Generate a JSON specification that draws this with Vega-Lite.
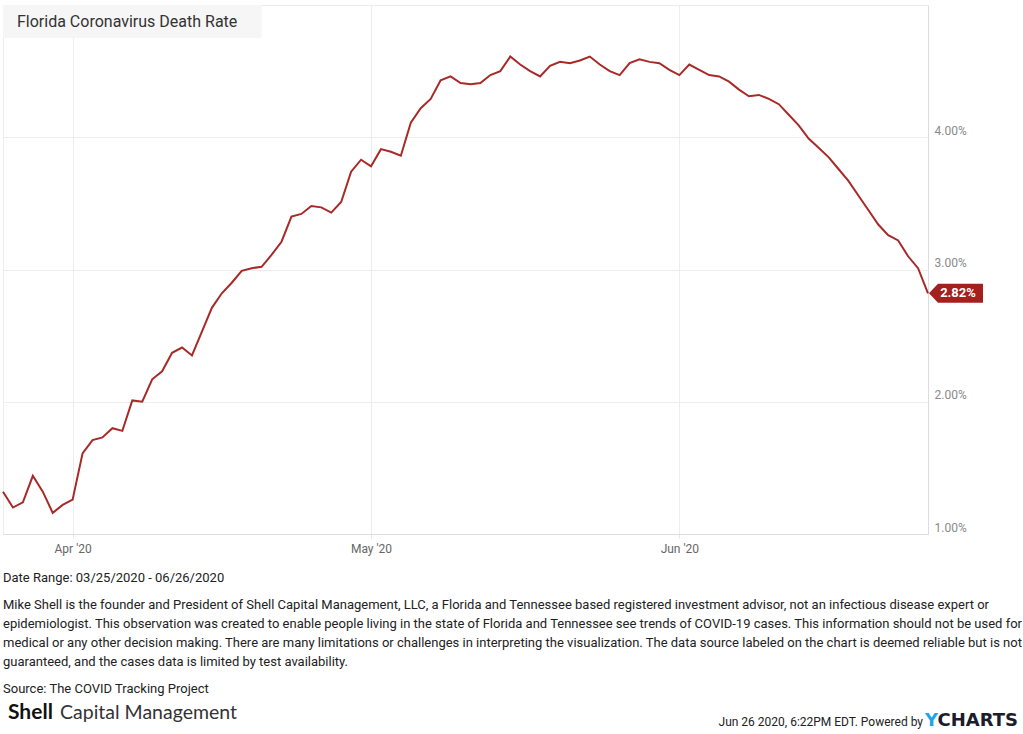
{
  "$schema": "https://vega.github.io/schema/vega-lite/v6.json",
  "background": "white",
  "padding": {"left": -2, "top": 4, "right": 0, "bottom": 0},
  "spacing": 13,
  "config": {
    "font": "Roboto",
    "view": {"stroke": "#ececec"},
    "axis": {"labelFont": "Roboto", "titleFont": "Roboto"}
  },
  "vconcat": [
    {
      "width": 925,
      "height": 529,
      "title": {
        "text": "Date Range: 03/25/2020 - 06/26/2020",
        "subtitle": [
          "Mike Shell is the founder and President of Shell Capital Management, LLC, a Florida and Tennessee based registered investment advisor, not an infectious disease expert or",
          "epidemiologist. This observation was created to enable people living in the state of Florida and Tennessee see trends of COVID-19 cases. This information should not be used for",
          "medical or any other decision making. There are many limitations or challenges in interpreting the visualization. The data source labeled on the chart is deemed reliable but is not",
          "guaranteed, and the cases data is limited by test availability."
        ],
        "orient": "bottom",
        "anchor": "start",
        "frame": "bounds",
        "offset": 18,
        "dx": 4,
        "font": "Roboto",
        "fontSize": 13,
        "fontWeight": "normal",
        "color": "#222222",
        "subtitleFont": "Roboto",
        "subtitleFontSize": 13,
        "subtitleColor": "#222222",
        "subtitleLineHeight": 19,
        "subtitlePadding": 14
      },
      "data": {"values": [
        {"date": "2020-03-25", "rate": 0.0132},
        {"date": "2020-03-26", "rate": 0.0120},
        {"date": "2020-03-27", "rate": 0.0124},
        {"date": "2020-03-28", "rate": 0.0144},
        {"date": "2020-03-29", "rate": 0.0132},
        {"date": "2020-03-30", "rate": 0.0116},
        {"date": "2020-03-31", "rate": 0.0122},
        {"date": "2020-04-01", "rate": 0.0126},
        {"date": "2020-04-02", "rate": 0.0161},
        {"date": "2020-04-03", "rate": 0.0171},
        {"date": "2020-04-04", "rate": 0.0173},
        {"date": "2020-04-05", "rate": 0.0180},
        {"date": "2020-04-06", "rate": 0.0178},
        {"date": "2020-04-07", "rate": 0.0201},
        {"date": "2020-04-08", "rate": 0.0200},
        {"date": "2020-04-09", "rate": 0.0217},
        {"date": "2020-04-10", "rate": 0.0223},
        {"date": "2020-04-11", "rate": 0.0237},
        {"date": "2020-04-12", "rate": 0.0241},
        {"date": "2020-04-13", "rate": 0.0235},
        {"date": "2020-04-14", "rate": 0.0253},
        {"date": "2020-04-15", "rate": 0.0271},
        {"date": "2020-04-16", "rate": 0.0282},
        {"date": "2020-04-17", "rate": 0.0290},
        {"date": "2020-04-18", "rate": 0.0299},
        {"date": "2020-04-19", "rate": 0.0301},
        {"date": "2020-04-20", "rate": 0.0302},
        {"date": "2020-04-21", "rate": 0.0311},
        {"date": "2020-04-22", "rate": 0.0321},
        {"date": "2020-04-23", "rate": 0.0340},
        {"date": "2020-04-24", "rate": 0.0342},
        {"date": "2020-04-25", "rate": 0.0348},
        {"date": "2020-04-26", "rate": 0.0347},
        {"date": "2020-04-27", "rate": 0.0343},
        {"date": "2020-04-28", "rate": 0.0351},
        {"date": "2020-04-29", "rate": 0.0374},
        {"date": "2020-04-30", "rate": 0.0383},
        {"date": "2020-05-01", "rate": 0.0378},
        {"date": "2020-05-02", "rate": 0.0391},
        {"date": "2020-05-03", "rate": 0.0389},
        {"date": "2020-05-04", "rate": 0.0386},
        {"date": "2020-05-05", "rate": 0.0411},
        {"date": "2020-05-06", "rate": 0.0422},
        {"date": "2020-05-07", "rate": 0.0429},
        {"date": "2020-05-08", "rate": 0.0443},
        {"date": "2020-05-09", "rate": 0.0446},
        {"date": "2020-05-10", "rate": 0.0441},
        {"date": "2020-05-11", "rate": 0.0440},
        {"date": "2020-05-12", "rate": 0.0441},
        {"date": "2020-05-13", "rate": 0.0447},
        {"date": "2020-05-14", "rate": 0.0450},
        {"date": "2020-05-15", "rate": 0.0461},
        {"date": "2020-05-16", "rate": 0.0455},
        {"date": "2020-05-17", "rate": 0.0450},
        {"date": "2020-05-18", "rate": 0.0446},
        {"date": "2020-05-19", "rate": 0.0454},
        {"date": "2020-05-20", "rate": 0.0457},
        {"date": "2020-05-21", "rate": 0.0456},
        {"date": "2020-05-22", "rate": 0.0458},
        {"date": "2020-05-23", "rate": 0.0461},
        {"date": "2020-05-24", "rate": 0.0455},
        {"date": "2020-05-25", "rate": 0.0450},
        {"date": "2020-05-26", "rate": 0.0447},
        {"date": "2020-05-27", "rate": 0.0456},
        {"date": "2020-05-28", "rate": 0.0459},
        {"date": "2020-05-29", "rate": 0.0457},
        {"date": "2020-05-30", "rate": 0.0456},
        {"date": "2020-05-31", "rate": 0.0451},
        {"date": "2020-06-01", "rate": 0.0447},
        {"date": "2020-06-02", "rate": 0.0455},
        {"date": "2020-06-03", "rate": 0.0451},
        {"date": "2020-06-04", "rate": 0.0447},
        {"date": "2020-06-05", "rate": 0.0446},
        {"date": "2020-06-06", "rate": 0.0442},
        {"date": "2020-06-07", "rate": 0.0436},
        {"date": "2020-06-08", "rate": 0.0431},
        {"date": "2020-06-09", "rate": 0.0432},
        {"date": "2020-06-10", "rate": 0.0429},
        {"date": "2020-06-11", "rate": 0.0425},
        {"date": "2020-06-12", "rate": 0.0417},
        {"date": "2020-06-13", "rate": 0.0409},
        {"date": "2020-06-14", "rate": 0.0399},
        {"date": "2020-06-15", "rate": 0.0392},
        {"date": "2020-06-16", "rate": 0.0385},
        {"date": "2020-06-17", "rate": 0.0376},
        {"date": "2020-06-18", "rate": 0.0367},
        {"date": "2020-06-19", "rate": 0.0356},
        {"date": "2020-06-20", "rate": 0.0345},
        {"date": "2020-06-21", "rate": 0.0334},
        {"date": "2020-06-22", "rate": 0.0326},
        {"date": "2020-06-23", "rate": 0.0322},
        {"date": "2020-06-24", "rate": 0.0310},
        {"date": "2020-06-25", "rate": 0.0301},
        {"date": "2020-06-26", "rate": 0.0282}
      ]},
      "layer": [
        {
          "data": {"values": [{"chartTitle": "Florida Coronavirus Death Rate"}]},
          "layer": [
            {
              "mark": {"type": "rect", "color": "#f6f6f6"},
              "encoding": {
                "x": {"datum": {"year": 2020, "month": 3, "date": 25, "utc": true}, "type": "temporal", "title": null},
                "x2": {"datum": {"year": 2020, "month": 4, "date": 20, "utc": true}},
                "y": {"datum": 0.05, "type": "quantitative", "title": null},
                "y2": {"datum": 0.0475}
              }
            },
            {
              "mark": {"type": "text", "align": "left", "baseline": "middle", "dx": 14, "dy": 16.5, "font": "Roboto", "fontSize": 16, "color": "#333333"},
              "encoding": {
                "x": {"datum": {"year": 2020, "month": 3, "date": 25, "utc": true}, "type": "temporal", "title": null},
                "y": {"datum": 0.05, "type": "quantitative", "title": null},
                "text": {"field": "chartTitle"}
              }
            }
          ]
        },
        {
          "mark": {"type": "line", "color": "#a82a28", "strokeWidth": 2},
          "encoding": {
            "x": {
              "field": "date", "type": "temporal", "title": null,
              "scale": {"type": "utc", "domain": [{"year": 2020, "month": 3, "date": 25, "utc": true}, {"year": 2020, "month": 6, "date": 26, "utc": true}]},
              "axis": {
                "tickCount": {"interval": "month", "step": 1},
                "format": "%b '%y",
                "grid": true, "gridColor": "#ededed",
                "domain": true, "domainColor": "#dddddd",
                "ticks": true, "tickColor": "#e6e6e6", "tickSize": 4,
                "labelColor": "#666666", "labelFontSize": 12, "labelPadding": 5
              }
            },
            "y": {
              "field": "rate", "type": "quantitative", "title": null,
              "scale": {"domain": [0.01, 0.05], "nice": false, "zero": false},
              "axis": {
                "orient": "right",
                "values": [0.01, 0.02, 0.03, 0.04],
                "format": ".2%",
                "grid": true, "gridColor": "#ededed",
                "domain": true, "domainColor": "#dddddd",
                "ticks": false,
                "labelColor": "#8a8a8a", "labelFontSize": 12, "labelPadding": 6,
                "labelBaseline": "bottom"
              }
            }
          }
        },
        {
          "transform": [{"filter": {"field": "date", "equal": {"year": 2020, "month": 6, "date": 26, "utc": true}}}],
          "mark": {"type": "point", "filled": true, "opacity": 1, "color": "#a3201e", "strokeWidth": 0, "size": 12100,
                   "shape": "M 0.018 0 L 0.182 -0.173 L 1 -0.173 L 1 0.173 L 0.182 0.173 Z"},
          "encoding": {
            "x": {"field": "date", "type": "temporal", "title": null},
            "y": {"field": "rate", "type": "quantitative", "title": null}
          }
        },
        {
          "transform": [{"filter": {"field": "date", "equal": {"year": 2020, "month": 6, "date": 26, "utc": true}}}],
          "mark": {"type": "text", "align": "center", "baseline": "middle", "dx": 30, "font": "Roboto", "fontWeight": "bold", "fontSize": 13, "color": "white"},
          "encoding": {
            "x": {"field": "date", "type": "temporal", "title": null},
            "y": {"field": "rate", "type": "quantitative", "title": null},
            "text": {"field": "rate", "type": "quantitative", "format": ".2%"}
          }
        }
      ]
    },
    {
      "width": 1015,
      "height": 24,
      "view": {"stroke": null},
      "title": {
        "text": "Source: The COVID Tracking Project",
        "orient": "top", "anchor": "start", "offset": 6,
        "font": "Roboto", "fontSize": 13, "fontWeight": "normal", "color": "#222222"
      },
      "data": {"values": [{"logo": "Shell", "name": "Capital Management", "stamp": "Jun 26 2020, 6:22PM EDT. Powered by", "brandY": "Y", "brand": "CHARTS"}]},
      "layer": [
        {
          "mark": {"type": "text", "align": "left", "baseline": "middle", "dx": 5, "dy": -2, "font": "Lato", "fontWeight": "bold", "fontSize": 21, "color": "#111111"},
          "encoding": {
            "x": {"datum": 0, "type": "quantitative", "scale": {"domain": [0, 1]}, "axis": null},
            "y": {"datum": 0.5, "type": "quantitative", "scale": {"domain": [0, 1]}, "axis": null},
            "text": {"field": "logo"}
          }
        },
        {
          "mark": {"type": "text", "align": "left", "baseline": "middle", "dx": 57, "dy": -2, "font": "Lato", "fontSize": 19.5, "color": "#333333"},
          "encoding": {
            "x": {"datum": 0, "type": "quantitative", "axis": null},
            "y": {"datum": 0.5, "type": "quantitative", "axis": null},
            "text": {"field": "name"}
          }
        },
        {
          "mark": {"type": "text", "align": "right", "baseline": "middle", "dx": -95, "dy": 7, "font": "Roboto", "fontSize": 12, "color": "#222222"},
          "encoding": {
            "x": {"datum": 1, "type": "quantitative", "axis": null},
            "y": {"datum": 0.5, "type": "quantitative", "axis": null},
            "text": {"field": "stamp"}
          }
        },
        {
          "mark": {"type": "text", "align": "left", "baseline": "middle", "dx": -93, "dy": 6, "font": "DejaVu Sans", "fontWeight": "bold", "fontSize": 18, "color": "#1ea5e8"},
          "encoding": {
            "x": {"datum": 1, "type": "quantitative", "axis": null},
            "y": {"datum": 0.5, "type": "quantitative", "axis": null},
            "text": {"field": "brandY"}
          }
        },
        {
          "mark": {"type": "text", "align": "right", "baseline": "middle", "dx": 0, "dy": 6, "font": "DejaVu Sans", "fontWeight": "bold", "fontSize": 18, "color": "#1c1c2c"},
          "encoding": {
            "x": {"datum": 1, "type": "quantitative", "axis": null},
            "y": {"datum": 0.5, "type": "quantitative", "axis": null},
            "text": {"field": "brand"}
          }
        }
      ]
    }
  ]
}
